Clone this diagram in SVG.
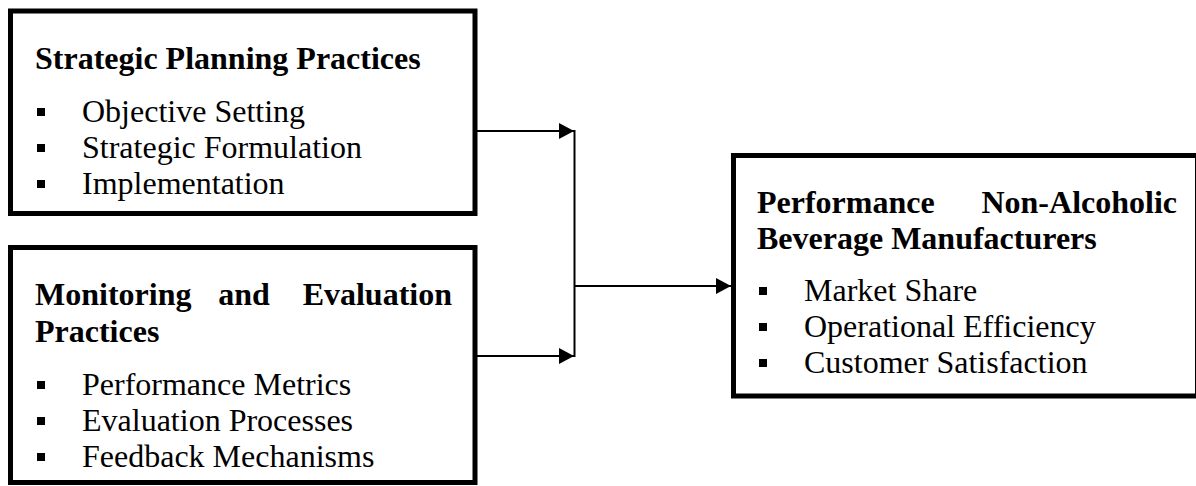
<svg xmlns="http://www.w3.org/2000/svg" width="1196" height="486" viewBox="0 0 1196 486">
  <style>
    .box { fill: #fff; stroke: #000; stroke-width: 5; }
    .title { font-family: "Liberation Serif", "Times New Roman", serif; font-size: 32px; font-weight: bold; fill: #000; }
    .item { font-family: "Liberation Serif", "Times New Roman", serif; font-size: 32px; fill: #000; }
    .bullet { fill: #000; }
    .conn { fill: none; stroke: #000; stroke-width: 2; }
  </style>
  <defs>
    <marker id="arrow" markerUnits="userSpaceOnUse" markerWidth="15" markerHeight="16" refX="15" refY="8" orient="auto">
      <path d="M0,0 L15,8 L0,16 z" fill="#000"/>
    </marker>
  </defs>
  <rect width="1196" height="486" fill="#fff"/>

  <g id="connectors">
    <line class="conn" x1="477" y1="131" x2="574" y2="131" marker-end="url(#arrow)"/>
    <line class="conn" x1="477" y1="356" x2="574" y2="356" marker-end="url(#arrow)"/>
    <line class="conn" x1="574.5" y1="130" x2="574.5" y2="357"/>
    <line class="conn" x1="574.5" y1="286" x2="731" y2="286" marker-end="url(#arrow)"/>
  </g>

  <g id="strategic-planning">
    <rect class="box" x="10.5" y="11" width="464.5" height="202.5"/>
    <text class="title" x="35" y="69">Strategic Planning Practices</text>
    <rect class="bullet" x="37" y="108" width="8" height="8"/>
    <text class="item" x="82" y="122">Objective Setting</text>
    <rect class="bullet" x="37" y="144" width="8" height="8"/>
    <text class="item" x="82" y="158">Strategic Formulation</text>
    <rect class="bullet" x="37" y="180" width="8" height="8"/>
    <text class="item" x="82" y="194">Implementation</text>
  </g>

  <g id="monitoring-evaluation">
    <rect class="box" x="10.5" y="247.5" width="464.5" height="235"/>
    <text class="title" x="35" y="305">Monitoring</text>
    <text class="title" x="244" y="305" text-anchor="middle">and</text>
    <text class="title" x="452" y="305" text-anchor="end">Evaluation</text>
    <text class="title" x="35" y="342">Practices</text>
    <rect class="bullet" x="37" y="381" width="8" height="8"/>
    <text class="item" x="82" y="395">Performance Metrics</text>
    <rect class="bullet" x="37" y="417" width="8" height="8"/>
    <text class="item" x="82" y="431">Evaluation Processes</text>
    <rect class="bullet" x="37" y="453" width="8" height="8"/>
    <text class="item" x="82" y="467">Feedback Mechanisms</text>
  </g>

  <g id="performance">
    <rect class="box" x="733.5" y="155.5" width="464" height="240.5"/>
    <text class="title" x="757" y="213">Performance</text>
    <text class="title" x="1177" y="213" text-anchor="end">Non-Alcoholic</text>
    <text class="title" x="757" y="249">Beverage Manufacturers</text>
    <rect class="bullet" x="759" y="287" width="8" height="8"/>
    <text class="item" x="804" y="301">Market Share</text>
    <rect class="bullet" x="759" y="323" width="8" height="8"/>
    <text class="item" x="804" y="337">Operational Efficiency</text>
    <rect class="bullet" x="759" y="359" width="8" height="8"/>
    <text class="item" x="804" y="373">Customer Satisfaction</text>
  </g>
</svg>
